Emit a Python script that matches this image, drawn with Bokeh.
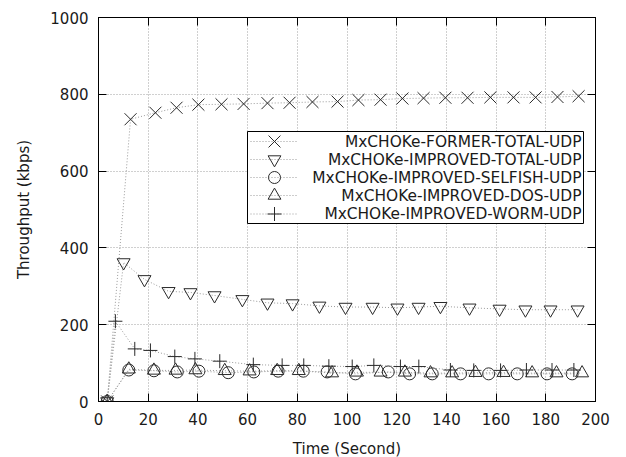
from bokeh.plotting import figure
from bokeh.models import (LinearAxis, Legend, LegendItem, FixedTicker, Range1d,
                          Label, CustomJSTickFormatter, BoxAnnotation)
from bokeh.embed import file_html
from bokeh.resources import INLINE

FONT = "DejaVu Sans"

labels = ["MxCHOKe-FORMER-TOTAL-UDP", "MxCHOKe-IMPROVED-TOTAL-UDP",
          "MxCHOKe-IMPROVED-SELFISH-UDP", "MxCHOKe-IMPROVED-DOS-UDP",
          "MxCHOKe-IMPROVED-WORM-UDP"]

former_x = [3.5, 12.9, 22.9, 31.4, 40.2, 49.5, 58.4, 68.0, 76.9, 86.1, 96.2, 104.6,
            113.5, 122.3, 130.8, 139.6, 148.5, 157.7, 167.0, 175.9, 184.7, 193.2]
former_y = [0, 735, 752, 765, 773, 774, 775, 777, 778, 780, 781, 785,
            786, 789, 790, 791, 791, 792, 792, 792, 793, 795]

total_x = [3.5, 10.1, 18.5, 28.2, 37.0, 46.7, 57.9, 68.0, 78.1, 88.9, 99.4,
           110.3, 120.3, 128.8, 137.6, 149.3, 161.4, 171.8, 181.9, 192.8]
total_y = [0, 362, 318, 287, 284, 276, 266, 257, 255, 249, 246,
           246, 244, 246, 248, 244, 241, 239, 239, 239]

selfish_x = [3.5, 12.2, 22.3, 31.7, 40.4, 52.2, 62.5, 72.3, 82.4, 92.0,
             103.4, 116.6, 125.2, 134.3, 145.7, 157.0, 168.5, 180.5, 190.6]
selfish_y = [0, 82, 80, 77, 79, 75, 77, 79, 79, 77,
             72, 77, 72, 72, 72, 72, 72, 72, 72]

dos_x = [3.5, 12.2, 22.3, 31.0, 39.0, 50.8, 60.8, 71.9, 80.6, 94.0,
         104.0, 113.5, 123.3, 133.6, 142.3, 151.7, 163.0, 174.5, 184.3, 194.6]
dos_y = [0, 84, 81, 81, 82, 80, 79, 80, 80, 74,
         76, 76, 76, 74, 74, 75, 75, 74, 74, 74]

worm_x = [3.5, 6.8, 14.6, 20.9, 30.7, 38.8, 48.8, 62.3, 73.9, 82.6, 92.7,
          102.1, 110.8, 121.5, 128.9, 141.6, 151.0, 161.8, 172.2, 182.5, 191.3]
worm_y = [0, 209, 137, 133, 117, 111, 105, 96, 94, 94, 92,
          91, 94, 91, 91, 82, 81, 81, 82, 82, 82]

x_ticks = [0, 20, 40, 60, 80, 100, 120, 140, 160, 180, 200]
y_ticks = [0, 200, 400, 600, 800, 1000]

FRAME_W, FRAME_H = 497, 384
p = figure(frame_width=FRAME_W, frame_height=FRAME_H, output_backend="svg",
           toolbar_location=None, x_range=Range1d(0, 200), y_range=Range1d(0, 1000),
           min_border_left=98, min_border_right=31, min_border_top=17, min_border_bottom=56,
           x_axis_label="Time (Second)", y_axis_label="Throughput (kbps)")
p.outline_line_color = "black"
p.outline_line_width = 1
p.background_fill_color = "white"
p.border_fill_color = "white"

for ax, ticks in ((p.xaxis[0], x_ticks), (p.yaxis[0], y_ticks)):
    ax.ticker = FixedTicker(ticks=ticks)
    ax.major_tick_in = 8
    ax.major_tick_out = 0
    ax.minor_tick_in = 0
    ax.minor_tick_out = 0
    ax.axis_line_color = "black"
    ax.major_tick_line_color = "black"
    ax.major_label_text_font = FONT
    ax.major_label_text_font_size = "15px"
    ax.major_label_text_color = "#1a1a1a"
    ax.axis_label_text_font = FONT
    ax.axis_label_text_font_size = "15px"
    ax.axis_label_text_font_style = "normal"
    ax.axis_label_text_color = "#1a1a1a"
p.xaxis[0].major_label_standoff = 11
p.xaxis[0].axis_label_standoff = 12
p.yaxis[0].major_label_standoff = 10
p.yaxis[0].axis_label_standoff = 14

blank = CustomJSTickFormatter(code="return ''")
top_ax = LinearAxis(ticker=FixedTicker(ticks=x_ticks), formatter=blank)
right_ax = LinearAxis(ticker=FixedTicker(ticks=y_ticks), formatter=blank)
for ax in (top_ax, right_ax):
    ax.major_tick_in = 8
    ax.major_tick_out = 0
    ax.minor_tick_in = 0
    ax.minor_tick_out = 0
    ax.major_label_standoff = 0
    ax.axis_line_color = "black"
    ax.major_tick_line_color = "black"
p.add_layout(top_ax, "above")
p.add_layout(right_ax, "right")

p.xgrid.ticker = FixedTicker(ticks=x_ticks)
p.ygrid.ticker = FixedTicker(ticks=y_ticks)
for g in (p.xgrid[0], p.ygrid[0]):
    g.grid_line_color = "#a0a0a0"
    g.grid_line_dash = "1 2"
    g.grid_line_width = 1

series = [
    (former_x, former_y, "x", 17),
    (total_x, total_y, "inverted_triangle", 13),
    (selfish_x, selfish_y, "circle", 12),
    (dos_x, dos_y, "triangle", 13),
    (worm_x, worm_y, "cross", 14),
]

renderer_pairs = []
for xs, ys, marker, size in series:
    lr = p.line(xs, ys, line_color="#9a9a9a", line_dash="1 2", line_width=1)
    sr = p.scatter(xs, ys, marker=marker, size=size, fill_color=None,
                   line_color="#2a2a2a", line_width=1)
    renderer_pairs.append([lr, sr])

# ---- legend layout (screen px, relative to the frame, y up from its bottom)
BOX_L, BOX_R, BOX_B, BOX_T = 149, 485, 178, 270
N = len(labels)
PITCH = (BOX_T - BOX_B - 2) / N
GLYPH_W = 48

p.add_layout(BoxAnnotation(left=BOX_L, right=BOX_R, bottom=BOX_B, top=BOX_T,
                           left_units="screen", right_units="screen",
                           bottom_units="screen", top_units="screen",
                           fill_color="white", fill_alpha=1.0,
                           line_color="black", line_width=1, line_alpha=1.0,
                           level="annotation"))

for i, (lab, rends, ser) in enumerate(zip(labels, renderer_pairs, series)):
    # Bokeh draws a legend marker at 0.4 x the glyph box: size the box so the
    # sample marker matches the plotted marker size
    glyph_h = round(ser[3] / 0.4)
    cy = BOX_T - 1 - PITCH / 2 - PITCH * i
    leg = Legend(items=[LegendItem(label="", renderers=rends)],
                 location=(BOX_L + 3, round(cy - glyph_h / 2)),
                 orientation="vertical")
    leg.border_line_color = None
    leg.background_fill_alpha = 0
    leg.label_text_font = FONT
    leg.label_text_font_size = "15px"
    leg.label_height = glyph_h
    leg.glyph_height = glyph_h
    leg.glyph_width = GLYPH_W
    leg.label_standoff = 0
    leg.label_width = 0
    leg.spacing = 0
    leg.padding = 0
    leg.margin = 0
    p.add_layout(leg, "center")
    # right-aligned legend text, as in the reference
    p.add_layout(Label(x=BOX_R - 2, y=cy, x_units="screen", y_units="screen",
                       text=lab, text_align="right", text_baseline="middle",
                       text_font=FONT, text_font_size="15.4px",
                       text_color="#1a1a1a", level="overlay"))

open("out.html", "w").write(file_html(p, INLINE))
